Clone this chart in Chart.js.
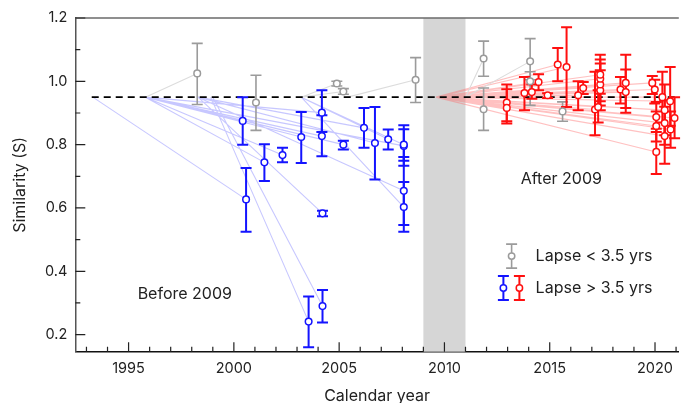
<!DOCTYPE html>
<html>
<head>
<meta charset="utf-8">
<script src="https://cdn.jsdelivr.net/npm/chart.js@4.4.1/dist/chart.umd.min.js"></script>
<style>
  html, body { margin: 0; padding: 0; background: #fff; }
</style>
</head>
<body>
<canvas id="simChart" width="681" height="403"></canvas>
<script>
// tick labels
var xTicks = [1995, 2000, 2005, 2010, 2015, 2020];
var yTicks = [0.2, 0.4, 0.6, 0.8, 1.0, 1.2];
var baseline = 0.95;

// Lapse < 3.5 yrs (grey)
var grayYears = [1998.26, 2001.05, 2004.89, 2005.2, 2008.63, 2011.86, 2011.86, 2014.07, 2014.07, 2015.61];
var grayS     = [1.025, 0.933, 0.993, 0.968, 1.005, 1.072, 0.912, 1.063, 1.0, 0.905];
var grayLow   = [0.927, 0.845, 0.985, 0.959, 0.933, 1.016, 0.845, 1.005, 0.924, 0.874];
var grayHigh  = [1.12, 1.019, 1.0, 0.977, 1.075, 1.127, 0.979, 1.135, 1.03, 0.935];
var grayStart = [1995.8, null, 2003.2, 2003.2, 2005.4, 2011.0, null, 2011.0, null, null];

// Lapse > 3.5 yrs, before 2009 (blue)
var blueYears = [2000.42, 2001.45, 2002.31, 2003.2, 2000.58, 2004.18, 2004.18, 2005.2, 2006.18, 2006.7, 2007.33, 2008.07, 2008.07, 2008.07, 2008.07, 2004.21, 2003.55, 2004.21];
var blueS     = [0.875, 0.744, 0.767, 0.824, 0.627, 0.901, 0.827, 0.80, 0.853, 0.805, 0.817, 0.796, 0.80, 0.654, 0.603, 0.583, 0.241, 0.29];
var blueLow   = [0.80, 0.685, 0.744, 0.742, 0.525, 0.84, 0.763, 0.785, 0.79, 0.69, 0.785, 0.733, 0.749, 0.546, 0.525, 0.574, 0.16, 0.238];
var blueHigh  = [0.95, 0.801, 0.79, 0.903, 0.726, 0.972, 0.893, 0.812, 0.916, 0.919, 0.848, 0.861, 0.849, 0.761, 0.682, 0.591, 0.32, 0.341];
var blueStart = [1995.8, 1995.8, 1995.8, 1995.8, 1993.3, 1995.8, 1995.8, 1995.8, 1998.3, 1998.3, 2003.2, 1995.8, 2003.2, 1998.3, 2003.2, 1998.3, 1998.9, 1999.0];

// Lapse > 3.5 yrs, after 2009 (red)
var redYears = [2012.96, 2012.96, 2013.8, 2014.15, 2014.47, 2014.9, 2015.38, 2015.8, 2016.35, 2016.59, 2017.15, 2017.3, 2017.4, 2017.4, 2017.4, 2017.4, 2018.36, 2018.61, 2018.61, 2019.87, 2019.99, 2020.35, 2020.46, 2020.06, 2020.06, 2020.46, 2020.72, 2020.93, 2020.74, 2020.46, 2020.06];
var redS     = [0.933, 0.916, 0.963, 0.966, 0.998, 0.956, 1.053, 1.045, 0.956, 0.979, 0.911, 0.919, 0.972, 0.99, 1.008, 1.021, 0.974, 0.995, 0.966, 0.995, 0.974, 0.95, 0.909, 0.887, 0.859, 0.868, 0.937, 0.884, 0.848, 0.827, 0.777];
var redLow   = [0.874, 0.867, 0.909, 0.945, 0.972, 0.947, 1.0, 0.919, 0.909, 0.96, 0.83, 0.87, 0.909, 0.924, 0.937, 0.961, 0.93, 0.916, 0.901, 0.96, 0.93, 0.87, 0.83, 0.84, 0.81, 0.80, 0.86, 0.82, 0.79, 0.74, 0.707];
var redHigh  = [0.99, 0.975, 1.014, 0.99, 1.022, 0.962, 1.105, 1.171, 1.0, 0.998, 1.03, 0.972, 1.035, 1.056, 1.069, 1.084, 1.014, 1.084, 1.037, 1.017, 1.005, 1.03, 0.99, 0.935, 0.905, 0.94, 1.045, 0.95, 0.905, 0.92, 0.85];
var redStartYear = 2009.6;

var FONT = 'Inter, "Open Sans", sans-serif';
var TEXT = '#222';

function pts(xs, ys) {
    return xs.map(function (x, i) { return { x: x, y: ys[i] }; });
}

// one dataset of segments, broken by null points
function segs(xs, ys, starts) {
    var out = [];
    xs.forEach(function (x, i) {
        var s = Array.isArray(starts) ? starts[i] : starts;
        if (s == null) return;
        out.push({ x: s, y: baseline }, { x: x, y: ys[i] }, { x: x, y: null });
    });
    return out;
}

function lineSet(data, color) {
    return {
        data: data, showLine: true, spanGaps: false,
        borderColor: color, borderWidth: 1.1, pointRadius: 0, order: 3
    };
}

function pointSet(xs, ys, color) {
    return {
        data: pts(xs, ys), showLine: false,
        pointRadius: 3.3, pointBorderWidth: 1.5,
        pointBackgroundColor: '#fff', pointBorderColor: color, order: 0
    };
}

var errGroups = [
    { xs: grayYears, lo: grayLow, hi: grayHigh, color: '#9b9b9b', w: 1.6 },
    { xs: blueYears, lo: blueLow, hi: blueHigh, color: '#1414ff', w: 2 },
    { xs: redYears, lo: redLow, hi: redHigh, color: '#ff0f0f', w: 2 }
];

function errBar(ctx, x, y1, y2, color, w) {
    ctx.save();
    ctx.strokeStyle = color;
    ctx.lineWidth = w;
    ctx.beginPath();
    ctx.moveTo(x, y1); ctx.lineTo(x, y2);
    ctx.moveTo(x - 5.5, y1); ctx.lineTo(x + 5.5, y1);
    ctx.moveTo(x - 5.5, y2); ctx.lineTo(x + 5.5, y2);
    ctx.stroke();
    ctx.restore();
}

var extras = {
    id: 'extras',
    beforeDatasetsDraw: function (chart) {
        var ctx = chart.ctx, a = chart.chartArea, xs = chart.scales.x;
        // gap 2009-2011
        var x1 = xs.getPixelForValue(2009), x2 = xs.getPixelForValue(2011);
        ctx.save();
        ctx.fillStyle = '#d6d6d6';
        ctx.fillRect(x1, a.top, x2 - x1, a.bottom - a.top);
        ctx.restore();
    },
    afterDatasetDraw: function (chart, args) {
        if (chart.data.datasets[args.index].label !== 'baseline') return;
        var ctx = chart.ctx, xs = chart.scales.x, ys = chart.scales.y;
        errGroups.forEach(function (g) {
            g.xs.forEach(function (x, i) {
                errBar(ctx, xs.getPixelForValue(x), ys.getPixelForValue(g.lo[i]),
                    ys.getPixelForValue(g.hi[i]), g.color, g.w);
            });
        });
    },
    afterDraw: function (chart) {
        var ctx = chart.ctx, a = chart.chartArea, xs = chart.scales.x, ys = chart.scales.y;
        ctx.save();
        // top frame
        ctx.strokeStyle = '#6a6a6a';
        ctx.lineWidth = 1.5;
        ctx.beginPath();
        ctx.moveTo(a.left, a.top); ctx.lineTo(a.right, a.top);
        ctx.stroke();

        // inward ticks
        ctx.strokeStyle = '#222';
        ctx.lineWidth = 1.2;
        ctx.beginPath();
        for (var yr = 1993; yr <= 2021; yr++) {
            var px = xs.getPixelForValue(yr);
            var len = yr % 5 === 0 ? 9.5 : 5;
            ctx.moveTo(px, a.bottom); ctx.lineTo(px, a.bottom - len);
        }
        for (var k = 2; k <= 12; k++) {
            var py = ys.getPixelForValue(k / 10);
            var l2 = k % 2 === 0 ? 10 : 5;
            ctx.moveTo(a.left, py); ctx.lineTo(a.left + l2, py);
        }
        ctx.stroke();

        // axis titles
        ctx.fillStyle = TEXT;
        ctx.font = '16px ' + FONT;
        ctx.textAlign = 'center';
        ctx.textBaseline = 'middle';
        ctx.fillText('Calendar year', (a.left + a.right) / 2, 396);
        ctx.save();
        ctx.translate(20, (a.top + a.bottom) / 2);
        ctx.rotate(-Math.PI / 2);
        ctx.fillText('Similarity (S)', 0, 0);
        ctx.restore();

        // period labels
        ctx.fillText('Before 2009', xs.getPixelForValue(1997.67), ys.getPixelForValue(0.328));
        ctx.fillText('After 2009', xs.getPixelForValue(2015.55), ys.getPixelForValue(0.69));

        // legend
        function marker(x, y, color) {
            errBar(ctx, x, y - 12, y + 12, color, color === '#9b9b9b' ? 1.6 : 2);
            ctx.beginPath();
            ctx.arc(x, y, 3.2, 0, Math.PI * 2);
            ctx.fillStyle = '#fff'; ctx.fill();
            ctx.lineWidth = 1.5; ctx.strokeStyle = color; ctx.stroke();
        }
        var gy = ys.getPixelForValue(0.448), by = ys.getPixelForValue(0.347);
        marker(xs.getPixelForValue(2013.19), gy, '#9b9b9b');
        marker(xs.getPixelForValue(2012.8), by, '#1414ff');
        marker(xs.getPixelForValue(2013.56), by, '#ff0f0f');
        ctx.fillStyle = TEXT;
        ctx.textAlign = 'left';
        var tx = xs.getPixelForValue(2014.33);
        ctx.fillText('Lapse < 3.5 yrs', tx, gy);
        ctx.fillText('Lapse > 3.5 yrs', tx, by);
        ctx.restore();
    }
};

var ctx1 = document.getElementById('simChart').getContext('2d');
var simChart = new Chart(ctx1, {
    type: 'scatter',
    data: {
        datasets: [
            pointSet(grayYears, grayS, '#9b9b9b'),
            pointSet(blueYears, blueS, '#1414ff'),
            pointSet(redYears, redS, '#ff0f0f'),
            {
                label: 'baseline',
                data: [{ x: 1993.25, y: baseline }, { x: 2021.2, y: baseline }],
                showLine: true, borderColor: '#000', borderWidth: 1.8,
                borderDash: [7, 5], pointRadius: 0, order: 2
            },
            lineSet(segs(grayYears, grayS, grayStart), '#dcdcdc'),
            lineSet(segs(blueYears, blueS, blueStart), 'rgba(90, 90, 255, 0.34)'),
            lineSet(segs(redYears, redS, redStartYear), 'rgba(255, 100, 100, 0.4)')
        ]
    },
    plugins: [extras],
    options: {
        responsive: false,
        animation: false,
        devicePixelRatio: 1,
        layout: { autoPadding: false, padding: { top: 18, right: 0, left: 0, bottom: 0 } },
        plugins: {
            legend: { display: false },
            tooltip: { enabled: false }
        },
        scales: {
            x: {
                type: 'linear', min: 1992.47, max: 2021.13,
                afterBuildTicks: function (s) { s.ticks = xTicks.map(function (v) { return { value: v }; }); },
                afterFit: function (s) { s.height = 51.3; },
                grid: { display: false, drawTicks: false },
                border: { display: true, color: '#111', width: 1.5 },
                ticks: {
                    padding: 8, color: TEXT, font: { family: FONT, size: 14.5 },
                    maxRotation: 0,
                    callback: function (v) { return String(v); }
                }
            },
            y: {
                type: 'linear', min: 0.146, max: 1.2,
                afterBuildTicks: function (s) { s.ticks = yTicks.map(function (v) { return { value: v }; }); },
                afterFit: function (s) { s.width = 75.3; },
                grid: { display: false, drawTicks: false },
                border: { display: true, color: '#555', width: 1.5 },
                ticks: {
                    padding: 8, color: TEXT, font: { family: FONT, size: 14.5 },
                    callback: function (v) { return v.toFixed(1); }
                }
            }
        }
    }
});
</script>
</body>
</html>
